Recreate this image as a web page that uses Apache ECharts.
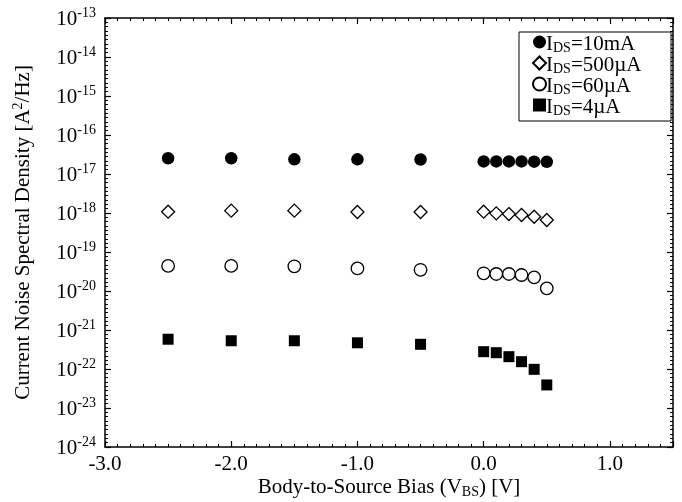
<!DOCTYPE html>
<html>
<head>
<meta charset="utf-8">
<script src="https://cdn.jsdelivr.net/npm/echarts@6/dist/echarts.min.js"></script>
<style>html,body{margin:0;padding:0;background:#fff;}#c{width:682px;height:502px;}</style>
</head>
<body>
<div id="c"></div>
<script>
// ---- data ----
const vbs = [-2.5, -2.0, -1.5, -1.0, -0.5, 0.0, 0.1, 0.2, 0.3, 0.4, 0.5];
const ids10mA  = [2.53e-17, 2.53e-17, 2.38e-17, 2.38e-17, 2.35e-17, 2.1e-17, 2.1e-17, 2.1e-17, 2.1e-17, 2.07e-17, 2.05e-17];
const ids500uA = [1.08e-18, 1.15e-18, 1.15e-18, 1.06e-18, 1.06e-18, 1.08e-18, 9.8e-19, 9.4e-19, 8.9e-19, 8.0e-19, 6.6e-19];
const ids60uA  = [4.4e-20, 4.4e-20, 4.3e-20, 3.8e-20, 3.5e-20, 2.84e-20, 2.73e-20, 2.73e-20, 2.57e-20, 2.24e-20, 1.17e-20];
const ids4uA   = [5.8e-22, 5.3e-22, 5.3e-22, 4.7e-22, 4.3e-22, 2.78e-22, 2.62e-22, 2.07e-22, 1.54e-22, 9.8e-23, 3.9e-23];
const seriesNames = ['10mA', '500µA', '60µA', '4µA'];
const xTickLabels = ['-3.0', '-2.0', '-1.0', '0.0', '1.0'];
const xMin = -3.0, xMax = 1.5;
const yMinExp = -24, yMaxExp = -13;   // decades shown on the (log-scaled) y axis

const FONT = 'Liberation Serif';
const FS = 21, FSS = 14;
const chart = echarts.init(document.getElementById('c'), null, {renderer: 'canvas'});
// y is plotted on a decade (log10) scale
function pairs(vals) { return vbs.map((x, i) => [x, Math.log10(vals[i]), vals[i]]); }
const axisLine = {show: true, onZero: false, lineStyle: {color: '#000', width: 1.5}};
const noLine = {show: false};
const tickMajor = {show: true, inside: true, length: 6, lineStyle: {color: '#000', width: 1.2}};
const tickMinor = {show: true, inside: true, length: 3, lineStyle: {color: '#000', width: 1}};
const yMinorTick = {show: true, splitNumber: 9, length: 3, lineStyle: {color: '#000', width: 1}};

function xAux(pos, major) {
  return {
    type: 'value', min: xMin, max: xMax, interval: major ? 1 : 0.1, position: pos,
    axisLine: major ? axisLine : noLine, axisTick: major ? tickMajor : tickMinor,
    axisLabel: {show: false}, splitLine: {show: false}
  };
}

const option = {
  animation: false,
  backgroundColor: '#fff',
  grid: {left: 105, right: 9, top: 18, bottom: 55, containLabel: false, outerBoundsMode: 'none'},
  xAxis: [{
    type: 'value', min: xMin, max: xMax, interval: 1, position: 'bottom',
    axisLine: axisLine, axisTick: tickMajor, splitLine: {show: false},
    axisLabel: {
      color: '#000', fontFamily: FONT, fontSize: FS, margin: 7,
      formatter: v => { const s = v.toFixed(1); return xTickLabels.indexOf(s) >= 0 ? s : ''; }
    },
    name: 'Body-to-Source Bias (V{s|BS}) [V]', nameLocation: 'middle', nameGap: 28, nameMoveOverlap: false,
    nameTextStyle: {
      color: '#000', fontFamily: FONT, fontSize: FS, lineHeight: 24, verticalAlign: 'top',
      rich: {s: {fontFamily: FONT, fontSize: FSS, color: '#000', verticalAlign: 'bottom', lineHeight: 14}}
    }
  }, xAux('top', true), xAux('bottom', false), xAux('top', false)],
  yAxis: [{
    type: 'value', min: yMinExp, max: yMaxExp, interval: 1,
    axisLine: axisLine, axisTick: tickMajor, minorTick: yMinorTick, splitLine: {show: false},
    axisLabel: {
      color: '#000', fontFamily: FONT, fontSize: FS, margin: 9, showMinLabel: true, showMaxLabel: true, hideOverlap: false,
      formatter: v => '{b|10}{s|' + Math.round(v) + '}',
      rich: {
        b: {fontFamily: FONT, fontSize: FS, color: '#000', lineHeight: 24, verticalAlign: 'bottom'},
        s: {fontFamily: FONT, fontSize: FSS, color: '#000', lineHeight: 15, verticalAlign: 'top'}
      }
    },
    name: 'Current Noise Spectral Density [A{p|2}/Hz]', nameLocation: 'middle', nameGap: 70, nameRotate: 90, nameMoveOverlap: false,
    nameTextStyle: {
      color: '#000', fontFamily: FONT, fontSize: FS, lineHeight: 24,
      rich: {p: {fontFamily: FONT, fontSize: FSS, color: '#000', verticalAlign: 'top', lineHeight: 14}}
    }
  }, {
    type: 'value', min: yMinExp, max: yMaxExp, interval: 1, position: 'right',
    axisLine: axisLine, axisTick: tickMajor, minorTick: yMinorTick, axisLabel: {show: false}, splitLine: {show: false}
  }],
  legend: {
    data: seriesNames, orient: 'vertical', right: 11, top: 32,
    borderColor: '#000', borderWidth: 1, borderRadius: 0, padding: [2, 4, 3, 13],
    itemWidth: 13, itemHeight: 13, itemGap: 0, backgroundColor: '#fff',
    formatter: name => '{i|I}{s|DS}{i|=' + name + '}',
    textStyle: {
      color: '#000', fontFamily: FONT, fontSize: FS, lineHeight: 16, width: 121, padding: [0, 0, 0, -5],
      rich: {
        i: {fontFamily: FONT, fontSize: FS, color: '#000', lineHeight: 16, verticalAlign: 'top'},
        s: {fontFamily: FONT, fontSize: FSS, color: '#000', lineHeight: 12, padding: [7, 0, 0, 0], verticalAlign: 'top'}
      }
    }
  },
  series: [
    {name: seriesNames[0], type: 'scatter', data: pairs(ids10mA), symbol: 'circle', symbolSize: 12.5,
     itemStyle: {color: '#000', opacity: 1}},
    {name: seriesNames[1], type: 'scatter', data: pairs(ids500uA), symbol: 'diamond', symbolSize: [13, 13],
     itemStyle: {color: '#fff', borderColor: '#000', borderWidth: 1.3, opacity: 1}},
    {name: seriesNames[2], type: 'scatter', data: pairs(ids60uA), symbol: 'circle', symbolSize: 12.5,
     itemStyle: {color: '#fff', borderColor: '#000', borderWidth: 1.3, opacity: 1}},
    {name: seriesNames[3], type: 'scatter', data: pairs(ids4uA), symbol: 'rect', symbolSize: 11,
     itemStyle: {color: '#000', opacity: 1}}
  ]
};
chart.setOption(option);
</script>
</body>
</html>
